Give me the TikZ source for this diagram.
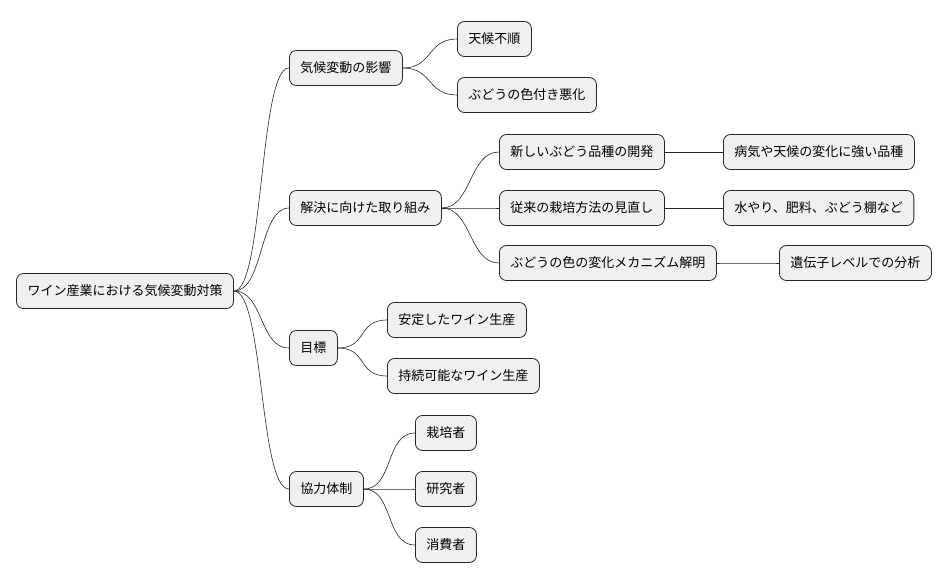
\documentclass[tikz,border=0pt]{standalone}
\usepackage{fontspec}
\setmainfont{Noto Sans CJK JP}
\begin{document}
\begin{tikzpicture}[x=1pt,y=-1pt,
  box/.style={draw=black!85, fill=black!6, rounded corners=7pt, line width=0.8pt,
    minimum height=35pt, inner xsep=11pt, font=\fontsize{13}{13}\selectfont},
  link/.style={line width=0.6pt, black!85}]
\useasboundingbox (0,0) rectangle (950,583);
\node[box] (root) at (125,291) {ワイン産業における気候変動対策};
\node[box,anchor=west] (eik) at (289,68) {気候変動の影響};
\node[box,anchor=west] (ten) at (457,39) {天候不順};
\node[box,anchor=west] (iro) at (457,95) {ぶどうの色付き悪化};
\node[box,anchor=west] (kai) at (289,208) {解決に向けた取り組み};
\node[box,anchor=west] (shin) at (499,152) {新しいぶどう品種の開発};
\node[box,anchor=west] (byo) at (723,152) {病気や天候の変化に強い品種};
\node[box,anchor=west] (jur) at (499,208) {従来の栽培方法の見直し};
\node[box,anchor=west] (mizu) at (723,208) {水やり、肥料、ぶどう棚など};
\node[box,anchor=west] (mek) at (499,263) {ぶどうの色の変化メカニズム解明};
\node[box,anchor=west] (ide) at (779,263) {遺伝子レベルでの分析};
\node[box,anchor=west] (moku) at (289,348) {目標};
\node[box,anchor=west] (ante) at (387,320) {安定したワイン生産};
\node[box,anchor=west] (jizo) at (387,376) {持続可能なワイン生産};
\node[box,anchor=west] (kyo) at (289,489) {協力体制};
\node[box,anchor=west] (sai) at (415,433) {栽培者};
\node[box,anchor=west] (ken) at (415,489) {研究者};
\node[box,anchor=west] (sho) at (415,545) {消費者};
\foreach \a/\b in {root/eik,root/kai,root/moku,root/kyo,eik/ten,eik/iro,
  kai/shin,kai/jur,kai/mek,shin/byo,jur/mizu,mek/ide,moku/ante,moku/jizo,
  kyo/sai,kyo/ken,kyo/sho}
  \draw[link] (\a.east) .. controls +(30,0) and +(-30,0) .. (\b.west);
\end{tikzpicture}
\end{document}
